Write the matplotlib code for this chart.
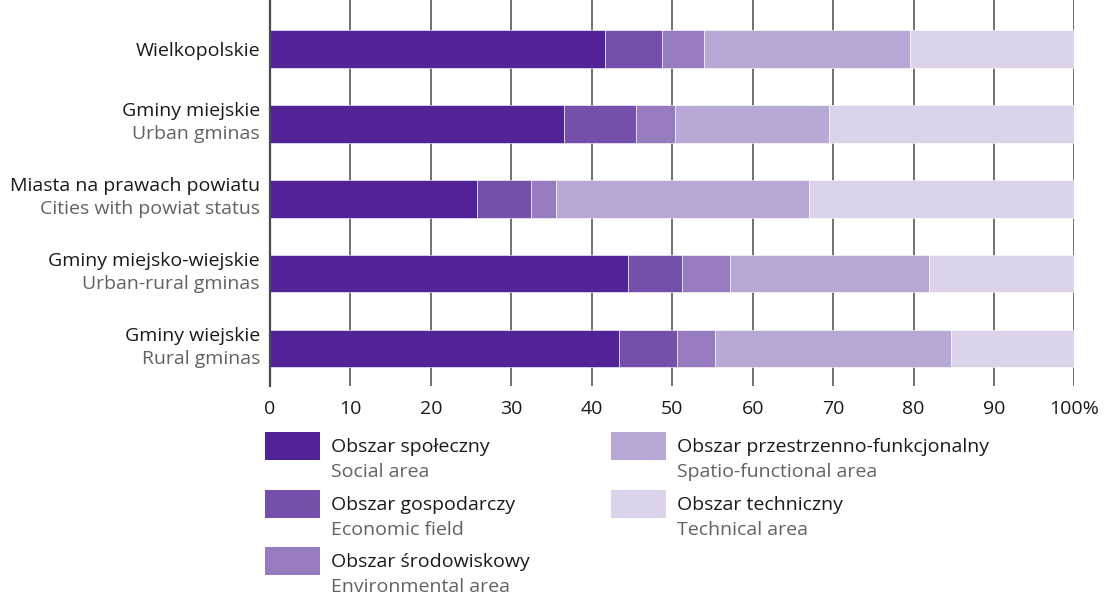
import matplotlib
matplotlib.use("Agg")
import matplotlib.pyplot as plt
from matplotlib.patches import Rectangle
import numpy as np

plt.rcParams['font.family'] = ['Open Sans', 'DejaVu Sans']

# Regions (Polish name, English name)
regions_pl = ["Wielkopolskie", "Gminy miejskie", "Miasta na prawach powiatu",
              "Gminy miejsko-wiejskie", "Gminy wiejskie"]
regions_en = ["", "Urban gminas", "Cities with powiat status",
              "Urban-rural gminas", "Rural gminas"]

# Shares of each area type, %
social        = [41.6, 36.6, 25.7, 44.5, 43.4]
economic      = [7.1, 8.9, 6.8, 6.7, 7.2]
environmental = [5.2, 4.8, 3.1, 6.0, 4.7]
spatial       = [25.7, 19.2, 31.4, 24.7, 29.3]
technical     = [20.4, 30.5, 33.0, 18.1, 15.4]

series_pl = ["Obszar społeczny", "Obszar gospodarczy", "Obszar środowiskowy",
             "Obszar przestrzenno-funkcjonalny", "Obszar techniczny"]
series_en = ["Social area", "Economic field", "Environmental area",
             "Spatio-functional area", "Technical area"]
colors = ["#512396", "#7550ab", "#967cbf", "#b8a8d5", "#dcd3ea"]

xticks = [0, 10, 20, 30, 40, 50, 60, 70, 80, 90, 100]
xtick_labels = ["0", "10", "20", "30", "40", "50", "60", "70", "80", "90", "100%"]

W, H = 1109, 594
fig = plt.figure(figsize=(W / 100, H / 100), dpi=100)
ax = fig.add_axes([270 / W, 1 - 386 / H, (1074.4 - 270) / W, 386 / H])

grid_col = "#4a4a4a"
black = "#1a1a1a"
gray = "#626262"
fs = 14

y = np.arange(len(regions_pl))
left = np.zeros(len(y))
for vals, col in zip([social, economic, environmental, spatial, technical], colors):
    ax.barh(y, vals, left=left, height=0.5, color=col, edgecolor="#ffffff",
            linewidth=0.4, zorder=3)
    left += np.array(vals)

ax.set_xlim(0, 100)
ax.set_ylim(4.5, -0.655)
ax.set_xticks(xticks)
ax.set_xticklabels(xtick_labels, fontsize=fs, color=black)
ax.tick_params(axis="x", length=0, pad=10)
ax.set_yticks([])
ax.grid(axis="x", color=grid_col, linewidth=1.1, zorder=0)
for s in ["top", "right", "bottom"]:
    ax.spines[s].set_visible(False)
ax.spines["left"].set_color(grid_col)
ax.spines["left"].set_linewidth(1.6)
ax.spines["left"].set_zorder(4)

# Two-line category labels to the left of the bars
for i, (pl, en) in enumerate(zip(regions_pl, regions_en)):
    if en:
        ax.annotate(pl, xy=(0, i), xycoords=("axes fraction", "data"),
                    xytext=(-10, 8), textcoords="offset pixels",
                    ha="right", va="baseline", fontsize=fs, color=black)
        ax.annotate(en, xy=(0, i), xycoords=("axes fraction", "data"),
                    xytext=(-10, -15.5), textcoords="offset pixels",
                    ha="right", va="baseline", fontsize=fs, color=gray)
    else:
        ax.annotate(pl, xy=(0, i), xycoords=("axes fraction", "data"),
                    xytext=(-10, -6.5), textcoords="offset pixels",
                    ha="right", va="baseline", fontsize=fs, color=black)

# Legend drawn in pixel coordinates
lg = fig.add_axes([0, 0, 1, 1], facecolor="none")
lg.set_xlim(0, W)
lg.set_ylim(H, 0)
lg.axis("off")
positions = [(265, 446), (265, 504), (265, 561), (611, 446), (611, 504)]
for (x0, yc), col, pl, en in zip(positions, colors, series_pl, series_en):
    lg.add_patch(Rectangle((x0, yc - 14), 55, 28, facecolor=col, edgecolor="none"))
    lg.text(x0 + 66, yc + 6, pl, fontsize=fs, color=black, va="baseline", ha="left")
    lg.text(x0 + 66, yc + 31, en, fontsize=fs, color=gray, va="baseline", ha="left")

fig.savefig("out.png", dpi=100)
